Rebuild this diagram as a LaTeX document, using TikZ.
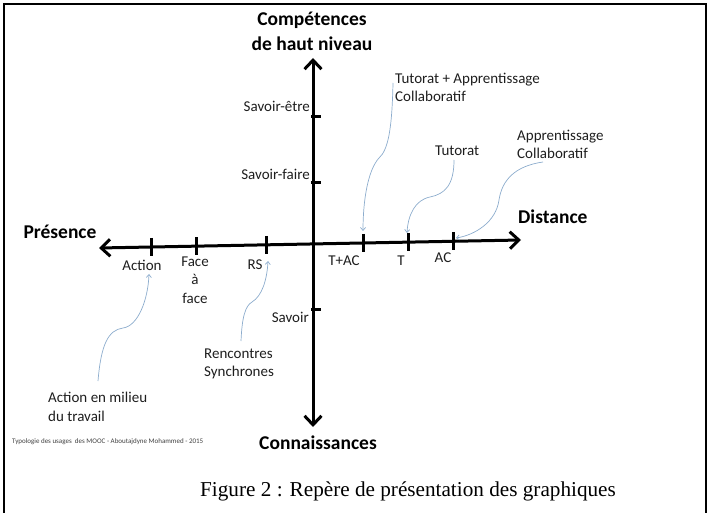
\documentclass[tikz,border=0pt]{standalone}
\usepackage{fontspec}
\setmainfont{Carlito}
\newfontfamily\capfont{Liberation Serif}
\usetikzlibrary{arrows.meta}
\definecolor{linkblue}{RGB}{140,172,205}
\definecolor{txt}{RGB}{30,30,30}
\begin{document}
\begin{tikzpicture}[x=1pt,y=-1pt,
  lbl/.style={font=\fontsize{15}{18.5}\selectfont, inner sep=0pt, text=txt},
  head/.style={font=\fontsize{19.5}{26}\bfseries\selectfont, inner sep=0pt, text=black, align=center},
  axisline/.style={line width=3pt, {Straight Barb[length=9pt,width=17pt]}-{Straight Barb[length=9pt,width=17pt]}},
  tickmark/.style={line width=3pt},
  link/.style={draw=linkblue, line width=0.7pt, -{Straight Barb[length=3pt,width=5pt]}},
  framebar/.style={line width=2.5pt}]
\useasboundingbox (0,0) rectangle (710,513);
% frame
\draw[framebar] (4,513) -- (4,4) -- (706,4) -- (706,513);
% axes
\coordinate (hl) at (99,248);
\coordinate (hr) at (521,240);
\coordinate (vt) at (313,58);
\coordinate (vb) at (313,427);
\draw[axisline] (hl) -- (hr);
\draw[axisline] (vb) -- (vt);
% ticks on horizontal axis
\coordinate (tAct) at (151,247);
\coordinate (tFace) at (196,246.2);
\coordinate (tRS) at (266,244.8);
\coordinate (tTAC) at (363,243);
\coordinate (tT) at (408,242.1);
\coordinate (tAC) at (453,241.3);
\foreach \t in {tAct,tFace,tRS,tTAC,tT,tAC}
  \draw[tickmark] (\t) ++(0,-9) -- ++(0,18);
% ticks on vertical axis
\coordinate (tSE) at (311,117);
\coordinate (tSF) at (311,183);
\coordinate (tS) at (311,310);
\foreach \t in {tSE,tSF,tS}
  \draw[tickmark] (\t) -- ++(10,0);
% headings
\node[head] (comp) at (312,31) {Compétences\\[-1pt]de haut niveau};
\node[head] (conn) at (318,443) {Connaissances};
\node[head] (pres) at (60,232) {Présence};
\node[head, anchor=west] (dist) at (518,217) {Distance};
% vertical labels
\node[lbl, anchor=east] (lSE) at (310,106) {Savoir-être};
\node[lbl, anchor=east] (lSF) at (310,174) {Savoir-faire};
\node[lbl, anchor=east] (lS) at (309,317) {Savoir};
% horizontal labels
\node[lbl] (lAct) at (142,265) {Action};
\node[lbl, align=center] (lFace) at (195,280) {Face\\à\\face};
\node[lbl] (lRS) at (255,265) {RS};
\node[lbl] (lTAC) at (344,261) {T+AC};
\node[lbl] (lT) at (401,261) {T};
\node[lbl] (lAC) at (443,258) {AC};
% explanations
\node[lbl, anchor=west, align=left] (eTAC) at (395,87.5) {Tutorat + Apprentissage\\Collaboratif};
\node[lbl, anchor=west] (eT) at (435,151) {Tutorat};
\node[lbl, anchor=west, align=left] (eAC) at (517,144.5) {Apprentissage\\Collaboratif};
\node[lbl, anchor=west, align=left] (eRS) at (204,364) {Rencontres\\Synchrones};
\node[lbl, anchor=west, align=left] (eAct) at (48,407) {Action en milieu\\du travail};
% connector ends
\coordinate (sAct) at (98,381);
\coordinate (eAc) at (149,274);
\coordinate (sRS) at (241,341);
\coordinate (eRs) at (268,261);
\coordinate (sTAC) at (393,83);
\coordinate (eTac) at (363,231);
\coordinate (sT) at (454,160);
\coordinate (eTt) at (407,233);
\coordinate (sAC) at (543,162);
\coordinate (eAcc) at (456,238);
% connectors
\draw[link] (sAct) .. controls (101,345) and (108,330) .. (123,328) .. controls (138,326) and (148,300) .. (eAc);
\draw[link] (sRS) .. controls (242,318) and (245,306) .. (252,302) .. controls (262,296) and (267,280) .. (eRs);
\draw[link] (sTAC) .. controls (392,130) and (388,150) .. (379,158) .. controls (368,170) and (363,200) .. (eTac);
\draw[link] (sT) .. controls (454,185) and (445,194) .. (430,197) .. controls (415,200) and (408,215) .. (eTt);
\draw[link] (sAC) .. controls (515,166) and (502,180) .. (499,200) .. controls (496,222) and (475,235) .. (eAcc);
% credit and caption
\node[anchor=west, inner sep=0pt, font=\fontsize{7}{8}\selectfont, text=black!75] (credit) at (12,442) {Typologie des usages\ \ des MOOC - Aboutajdyne Mohammed - 2015};
\node[anchor=west, inner sep=0pt, font=\capfont\fontsize{21.2}{26}\selectfont] (caption) at (200,491) {Figure 2 : Repère de présentation des graphiques};
\end{tikzpicture}
\end{document}
